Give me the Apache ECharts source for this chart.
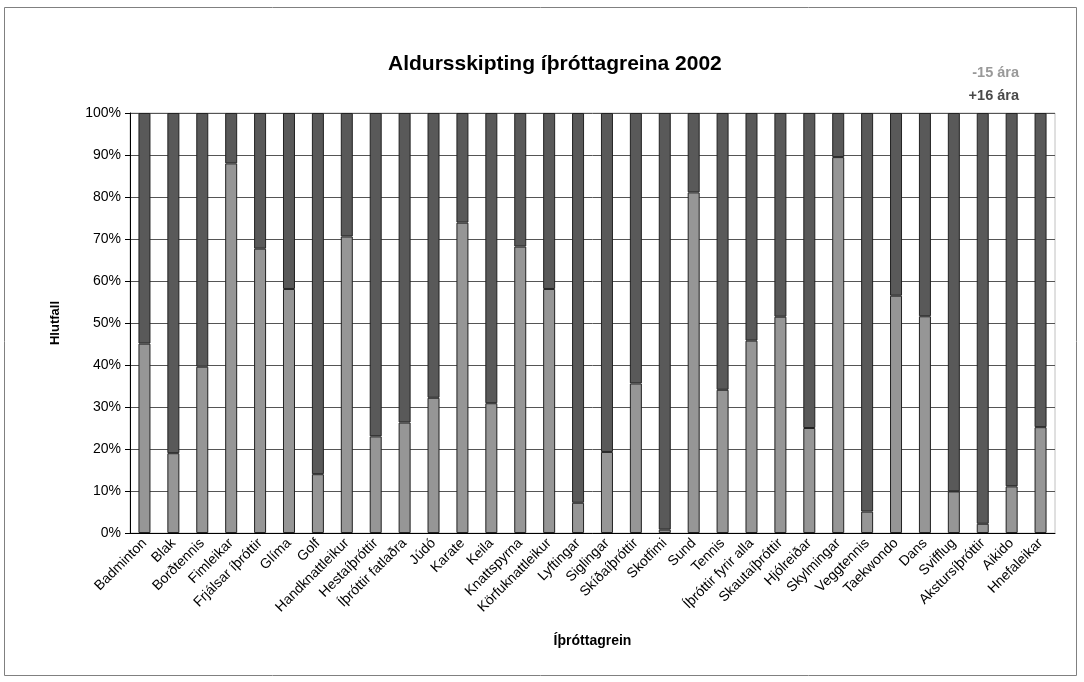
<!DOCTYPE html>
<html>
<head>
<meta charset="utf-8">
<script src="https://cdn.jsdelivr.net/npm/echarts@6/dist/echarts.min.js"></script>
<style>
  html, body { margin: 0; padding: 0; background: #fff; }
  #chart { width: 1084px; height: 682px; }
</style>
</head>
<body>
<div id="chart"></div>
<script>
// sports (x axis)
const categories = [
  "Badminton", "Blak", "Borðtennis", "Fimleikar", "Frjálsar íþróttir", "Glíma",
  "Golf", "Handknattleikur", "Hestaíþróttir", "Íþróttir fatlaðra", "Júdó", "Karate",
  "Keila", "Knattspyrna", "Körfuknattleikur", "Lyftingar", "Siglingar", "Skíðaíþróttir",
  "Skotfimi", "Sund", "Tennis", "Íþróttir fyrir alla", "Skautaíþróttir", "Hjólreiðar",
  "Skylmingar", "Veggtennis", "Taekwondo", "Dans", "Svifflug", "Akstursíþróttir",
  "Aikido", "Hnefaleikar"
];

// share (%) aged 15 and under
const under15 = [
  45.1, 19.0, 39.6, 88.0, 67.7, 58.1,
  14.0, 70.6, 23.0, 26.3, 32.2, 73.9,
  30.9, 68.2, 58.1, 7.2, 19.3, 35.6,
  0.8, 81.1, 34.1, 45.8, 51.5, 25.0,
  89.5, 5.1, 56.5, 51.6, 9.9, 2.2,
  11.1, 25.2
];

// share (%) aged 16 and over
const over16 = [
  54.9, 81.0, 60.4, 12.0, 32.3, 41.9,
  86.0, 29.4, 77.0, 73.7, 67.8, 26.1,
  69.1, 31.8, 41.9, 92.8, 80.7, 64.4,
  99.2, 18.9, 65.9, 54.2, 48.5, 75.0,
  10.5, 94.9, 43.5, 48.4, 90.1, 97.8,
  88.9, 74.8
];

const yTicks = [0, 10, 20, 30, 40, 50, 60, 70, 80, 90, 100];

const font = "'Liberation Sans', Arial, sans-serif";
const chart = echarts.init(document.getElementById("chart"));

chart.setOption({
  animation: false,
  backgroundColor: "#fff",
  textStyle: { fontFamily: font },
  title: {
    text: "Aldursskipting íþróttagreina 2002",
    left: 383,
    top: 49,
    textStyle: { fontFamily: font, fontSize: 21, fontWeight: "bold", color: "#000" }
  },
  legend: {
    orient: "vertical",
    right: 55,
    top: 60,
    align: "right",
    icon: "none",
    itemWidth: 0,
    itemHeight: 15,
    itemGap: 8,
    selectedMode: false,
    textStyle: { fontFamily: font, fontSize: 14.5, fontWeight: "bold" },
    data: [
      { name: "-15 ára", textStyle: { color: "#999999" } },
      { name: "+16 ára", textStyle: { color: "#4a4a4a" } }
    ]
  },
  graphic: [{
    type: "rect",
    shape: { x: 4.5, y: 7.5, width: 1072, height: 668 },
    style: { fill: "none", stroke: "#808080", lineWidth: 1 },
    silent: true
  }],
  grid: {
    left: 130, right: 29, top: 113, bottom: 149,
    show: true, borderColor: "#c0c0c0", borderWidth: 1
  },
  xAxis: {
    type: "category",
    data: categories,
    name: "Íþróttagrein",
    nameLocation: "middle",
    nameGap: 101,
    nameTextStyle: { fontFamily: font, fontSize: 14, fontWeight: "bold", color: "#000" },
    axisLine: { lineStyle: { color: "#000", width: 1 } },
    axisTick: { length: 5, lineStyle: { color: "#000" } },
    axisLabel: { interval: 0, rotate: 45, fontSize: 14, color: "#000", margin: 8 }
  },
  yAxis: {
    type: "value",
    min: yTicks[0],
    max: yTicks[yTicks.length - 1],
    interval: 10,
    name: "Hlutfall",
    nameLocation: "middle",
    nameRotate: 90,
    nameGap: 68,
    nameTextStyle: { fontFamily: font, fontSize: 13, fontWeight: "bold", color: "#000" },
    axisLine: { show: true, lineStyle: { color: "#000", width: 1 } },
    axisTick: { show: true, length: 5, lineStyle: { color: "#000" } },
    axisLabel: { formatter: "{value}%", fontSize: 14, color: "#000", margin: 9 },
    splitLine: { lineStyle: { color: "#555", width: 1 } }
  },
  series: [
    {
      name: "-15 ára",
      type: "bar",
      stack: "age",
      barWidth: 12,
      data: under15,
      itemStyle: { color: "#969696", borderColor: "#222", borderWidth: 1 }
    },
    {
      name: "+16 ára",
      type: "bar",
      stack: "age",
      barWidth: 12,
      data: over16,
      itemStyle: { color: "#595959", borderColor: "#222", borderWidth: 1 }
    }
  ]
});
</script>
</body>
</html>
